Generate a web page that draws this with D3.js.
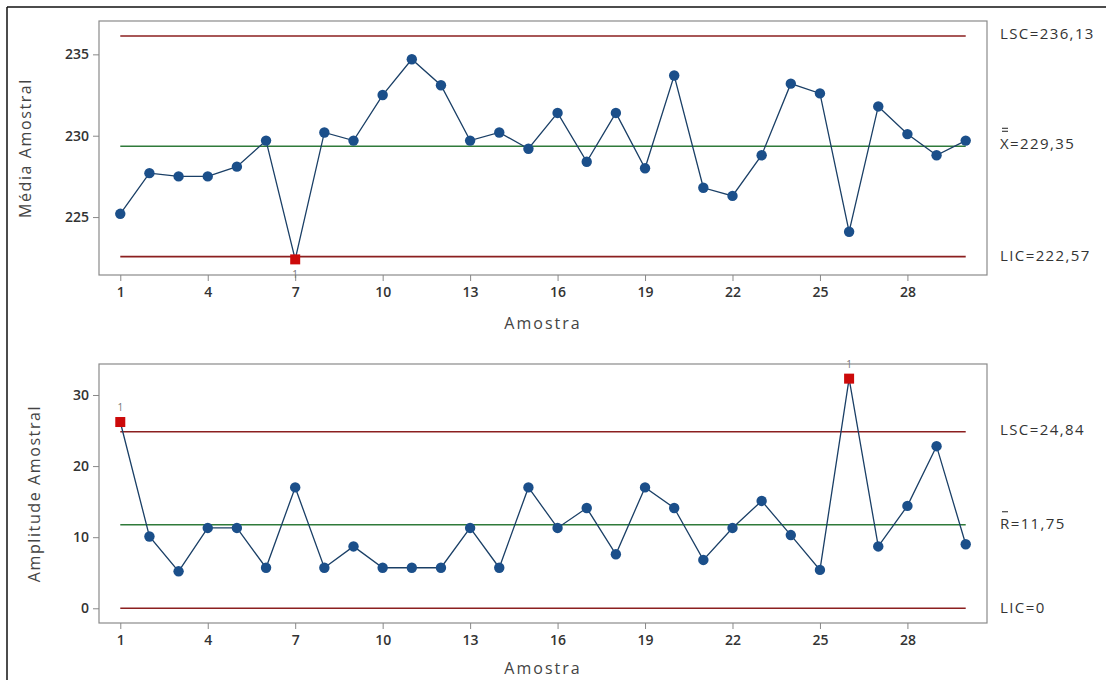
<!DOCTYPE html>
<html lang="pt">
<head>
  <meta charset="UTF-8">
  <title>Carta Xbarra-R</title>
  <style>
    body { margin: 0; background: #fff; }
    svg text { font-family: "Open Sans", "Noto Sans", sans-serif; }
  </style>
  <script src="https://cdn.jsdelivr.net/npm/d3@7"></script>
</head>
<body>
<div id="chart"></div>
<script>

// amostras 1..30
var amostras = d3.range(1, 31);

// média amostral (X barra)
var medias = [225.2, 227.7, 227.5, 227.5, 228.1, 229.7, 222.4, 230.2, 229.7, 232.5,
              234.7, 233.1, 229.7, 230.2, 229.2, 231.4, 228.4, 231.4, 228.0, 233.7,
              226.8, 226.3, 228.8, 233.2, 232.6, 224.1, 231.8, 230.1, 228.8, 229.7];

// amplitude amostral (R)
var amplitudes = [26.2, 10.1, 5.2, 11.3, 11.3, 5.7, 17.0, 5.7, 8.7, 5.7,
                  5.7, 5.7, 11.3, 5.7, 17.0, 11.3, 14.1, 7.6, 17.0, 14.1,
                  6.8, 11.3, 15.1, 10.3, 5.4, 32.3, 8.7, 14.4, 22.8, 9.0];

var limitesX = { lsc: 236.13, centro: 229.35, lic: 222.57 };
var limitesR = { lsc: 24.84, centro: 11.75, lic: 0 };

var rotulosX = ["LSC=236,13", "X=229,35", "LIC=222,57"];
var rotulosR = ["LSC=24,84", "R=11,75", "LIC=0"];

var ticksAmostra = [1, 4, 7, 10, 13, 16, 19, 22, 25, 28];
var ticksMedia = [225, 230, 235];
var ticksAmplitude = [0, 10, 20, 30];

var width = 1106, height = 680;

var svg = d3.select("#chart").append("svg")
    .attr("width", width)
    .attr("height", height);

// borda preta da captura (topo e esquerda)
svg.append("line").attr("x1", 7).attr("x2", width).attr("y1", 7).attr("y2", 7)
    .attr("stroke", "#111").attr("stroke-width", 1.5);
svg.append("line").attr("x1", 7).attr("x2", 7).attr("y1", 7).attr("y2", height)
    .attr("stroke", "#111").attr("stroke-width", 1.5);

var x = d3.scaleLinear().domain([0.27, 30.73]).range([99, 987]);

function painel(cfg) {
    var y = d3.scaleLinear().domain(cfg.dominio).range([cfg.bottom, cfg.top]);
    var g = svg.append("g");

    // moldura
    g.append("rect")
        .attr("x", x.range()[0]).attr("y", cfg.top)
        .attr("width", x.range()[1] - x.range()[0])
        .attr("height", cfg.bottom - cfg.top)
        .attr("fill", "none").attr("stroke", "#8a8a8a").attr("stroke-width", 1.2);

    // eixos
    var ax = g.append("g")
        .attr("transform", "translate(0," + cfg.bottom + ")")
        .call(d3.axisBottom(x).tickValues(ticksAmostra).tickSize(6).tickPadding(6));
    var ay = g.append("g")
        .attr("transform", "translate(" + x.range()[0] + ",0)")
        .call(d3.axisLeft(y).tickValues(cfg.ticks).tickSize(6).tickPadding(4));
    [ax, ay].forEach(function(a) {
        a.select(".domain").remove();
        a.selectAll(".tick line").attr("stroke", "#888");
        a.selectAll(".tick text").attr("fill", "#333").style("font-size", "14px")
            .style("font-family", "'Open Sans', sans-serif").style("font-weight", "600");
    });

    // limites de controle
    var lim = [
        { v: cfg.limites.lsc, c: "#8b1f1f" },
        { v: cfg.limites.centro, c: "#2f7a3a" },
        { v: cfg.limites.lic, c: "#8b1f1f" }
    ];
    g.selectAll(".lim").data(lim).enter().append("line")
        .attr("x1", x(1)).attr("x2", x(30))
        .attr("y1", function(d) { return y(d.v); })
        .attr("y2", function(d) { return y(d.v); })
        .attr("stroke", function(d) { return d.c; })
        .attr("stroke-width", 1.6);

    // série
    var line = d3.line()
        .x(function(d, i) { return x(amostras[i]); })
        .y(function(d) { return y(d); });
    g.append("path").datum(cfg.valores)
        .attr("d", line)
        .attr("fill", "none").attr("stroke", "#1a3f66").attr("stroke-width", 1.3);

    var fora = function(d) { return d > cfg.limites.lsc || d < cfg.limites.lic; };

    cfg.valores.forEach(function(v, i) {
        var a = amostras[i];
        if (fora(v)) {
            g.append("rect")
                .attr("x", x(a) - 5).attr("y", y(v) - 5)
                .attr("width", 10).attr("height", 10)
                .attr("fill", "#cc0a0a");
            var acima = v > cfg.limites.lsc;
            g.append("text")
                .attr("x", x(a)).attr("y", acima ? y(v) - 11 : y(v) + 19)
                .attr("text-anchor", "middle")
                .attr("fill", "#777").style("font-size", "10px")
                .text("1");
        } else {
            g.append("circle")
                .attr("cx", x(a)).attr("cy", y(v)).attr("r", 5.2)
                .attr("fill", "#1b4f8a");
        }
    });

    // títulos
    g.append("text")
        .attr("x", (x.range()[0] + x.range()[1]) / 2)
        .attr("y", cfg.bottom + cfg.xTitleDy)
        .attr("text-anchor", "middle")
        .attr("fill", "#444").style("font-size", "16px").style("letter-spacing", "2px")
        .text("Amostra");
    g.append("text")
        .attr("transform", "translate(" + cfg.yTitleX + "," + ((cfg.top + cfg.bottom) / 2) + ") rotate(-90)")
        .attr("text-anchor", "middle")
        .attr("dy", "0.35em")
        .attr("fill", "#444").style("font-size", "16px").style("letter-spacing", "1.6px")
        .text(cfg.titulo);

    // rótulos à direita
    var tx = 1000;
    var vals = [cfg.limites.lsc, cfg.limites.centro, cfg.limites.lic];
    cfg.rotulos.forEach(function(r, i) {
        var yy = y(vals[i]) + cfg.rotOff[i];
        g.append("text").attr("x", tx).attr("y", yy).attr("dy", "0.35em")
            .attr("fill", "#333").style("font-size", "15px").style("letter-spacing", "1.4px")
            .text(r);
        if (i === 1) {
            // barra(s) sobre X / R
            d3.range(cfg.barras).forEach(function(k) {
                g.append("line")
                    .attr("x1", tx + 2).attr("x2", tx + 8)
                    .attr("y1", yy - 12 - k * 3).attr("y2", yy - 12 - k * 3)
                    .attr("stroke", "#333").attr("stroke-width", 1.1);
            });
        }
    });
}

painel({
    top: 21, bottom: 275,
    dominio: [221.44, 237.05],
    ticks: ticksMedia,
    valores: medias,
    limites: limitesX,
    rotulos: rotulosX,
    rotOff: [-2, -3, -1],
    barras: 2,
    titulo: "Média Amostral",
    yTitleX: 25,
    xTitleDy: 54
});

painel({
    top: 364, bottom: 623,
    dominio: [-2.07, 34.36],
    ticks: ticksAmplitude,
    valores: amplitudes,
    limites: limitesR,
    rotulos: rotulosR,
    rotOff: [-2, -1, -1],
    barras: 1,
    titulo: "Amplitude Amostral",
    yTitleX: 34,
    xTitleDy: 51
});

</script>
</body>
</html>
